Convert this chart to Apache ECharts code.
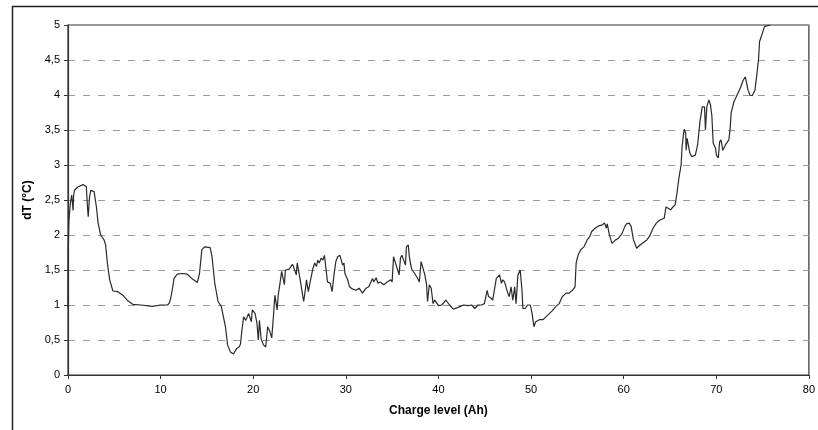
<!DOCTYPE html>
<html><head><meta charset="utf-8">
<script src="https://cdn.jsdelivr.net/npm/echarts@6/dist/echarts.min.js"></script>
<style>html,body{margin:0;padding:0;background:#fff}#c{width:818px;height:430px}</style>
</head><body><div id="c"></div>
<script>
const xTitle = 'Charge level (Ah)';
const yTitle = 'dT (°C)';
const xTicks = [0,10,20,30,40,50,60,70,80];
const yTicks = [0,0.5,1,1.5,2,2.5,3,3.5,4,4.5,5];
const chargeAh = [0,0.03,0.1,0.25,0.4,0.5,0.55,0.6,0.7,1.1,1.63,1.98,2.08,2.18,2.33,2.47,2.82,3.07,3.25,3.53,3.89,4.06,4.25,4.5,4.85,5.39,5.92,6.46,6.99,7.88,9.1,10.0,10.75,10.95,11.1,11.3,11.45,11.8,12.35,12.87,13.37,13.96,14.2,14.45,14.75,15.35,15.55,15.85,16.2,16.55,16.75,17.0,17.23,17.53,17.87,18.22,18.47,18.62,18.78,18.96,19.2,19.5,19.8,19.9,20.2,20.4,20.55,20.67,20.85,21.1,21.35,21.56,21.8,22.0,22.18,22.34,22.48,22.58,22.7,22.87,23.07,23.27,23.37,23.47,23.86,24.06,24.26,24.46,24.65,24.75,24.95,25.05,25.3,25.45,25.65,25.75,25.95,26.15,26.34,26.44,26.64,26.83,26.97,27.13,27.33,27.53,27.69,27.83,28.02,28.32,28.52,28.72,28.92,29.12,29.36,29.51,29.66,29.8,29.9,30.2,30.4,30.7,31.1,31.44,31.79,32.18,32.48,32.88,33.02,33.27,33.47,33.72,33.87,34.12,34.46,34.86,35.0,35.15,35.35,35.55,35.75,35.9,36.05,36.25,36.44,36.54,36.74,36.84,36.97,37.14,37.44,37.63,37.83,37.93,38.13,38.33,38.53,38.72,38.82,39.02,39.22,39.42,39.6,40.0,40.36,40.8,41.2,41.6,42.2,42.7,43.23,43.58,43.92,44.27,44.67,44.96,45.26,45.41,45.66,45.86,46.05,46.25,46.4,46.6,46.8,46.95,47.14,47.34,47.44,47.64,47.84,48.03,48.23,48.38,48.58,48.83,49.02,49.12,49.37,49.62,49.92,50.11,50.31,50.5,50.9,51.3,51.6,52.0,52.3,52.69,53.04,53.38,53.78,54.12,54.47,54.75,54.87,55.07,55.36,55.71,56.06,56.35,56.55,56.95,57.29,57.64,57.94,58.13,58.23,58.43,58.73,59.13,59.42,59.82,60.12,60.31,60.61,60.81,61.06,61.4,61.8,62.1,62.5,62.79,63.19,63.53,63.88,64.38,64.57,64.77,65.07,65.32,65.56,65.76,65.96,66.2,66.31,66.45,66.55,66.7,66.75,66.85,67.15,67.34,67.54,67.74,67.99,68.24,68.48,68.73,68.83,68.98,69.2,69.37,69.52,69.67,69.92,70.02,70.22,70.36,70.51,70.71,71.0,71.36,71.5,71.6,71.9,72.25,72.6,72.9,73.14,73.34,73.43,73.63,73.88,74.18,74.38,74.57,74.67,74.97,75.22,75.27,75.86];
const dT = [0.95,1.8,2.2,2.45,2.57,2.55,2.35,2.55,2.64,2.69,2.72,2.69,2.45,2.26,2.55,2.64,2.62,2.4,2.17,2.0,1.93,1.86,1.6,1.36,1.2,1.19,1.14,1.06,1.01,1.0,0.98,1.0,1.0,1.03,1.1,1.25,1.38,1.44,1.45,1.44,1.38,1.32,1.45,1.79,1.83,1.82,1.69,1.31,1.05,0.98,0.96,0.69,0.43,0.33,0.30,0.38,0.40,0.44,0.64,0.83,0.78,0.88,0.76,0.93,0.88,0.74,0.5,0.78,0.52,0.43,0.40,0.69,0.62,0.53,0.83,1.14,1.12,0.93,1.14,1.29,1.48,1.5,1.29,1.5,1.51,1.55,1.58,1.6,1.43,1.6,1.61,1.38,1.17,1.05,1.24,1.36,1.19,1.33,1.31,1.52,1.6,1.55,1.64,1.6,1.67,1.64,1.71,1.55,1.33,1.31,1.19,1.43,1.62,1.69,1.71,1.69,1.57,1.6,1.45,1.36,1.26,1.23,1.21,1.24,1.17,1.24,1.26,1.38,1.33,1.39,1.31,1.33,1.31,1.29,1.33,1.36,1.33,1.69,1.71,1.52,1.43,1.67,1.71,1.69,1.57,1.83,1.86,1.71,1.6,1.5,1.45,1.43,1.36,1.33,1.62,1.6,1.43,1.29,1.05,1.29,1.24,1.02,1.07,0.99,1.0,1.07,1.0,0.94,0.97,1.0,0.99,1.0,0.95,1.0,1.0,1.02,1.21,1.12,1.1,1.07,1.05,1.38,1.36,1.43,1.31,1.36,1.33,1.31,1.19,1.12,1.26,1.07,1.26,1.02,1.43,1.5,1.21,0.95,0.95,1.0,1.0,0.88,0.69,0.76,0.79,0.79,0.83,0.88,0.92,0.98,1.02,1.12,1.17,1.17,1.21,1.26,1.6,1.71,1.79,1.83,1.93,1.98,2.05,2.1,2.13,2.14,2.17,2.1,2.16,2.02,1.88,1.93,1.95,2.02,2.12,2.16,2.17,2.12,1.93,1.81,1.86,1.89,1.93,1.98,2.1,2.17,2.21,2.24,2.4,2.38,2.36,2.4,2.43,2.6,2.81,3.0,3.26,3.43,3.51,3.45,3.21,3.38,3.17,3.12,3.1,3.14,3.29,3.62,3.83,3.83,3.5,3.83,3.93,3.86,3.71,3.31,3.24,3.14,3.1,3.33,3.36,3.21,3.29,3.36,3.52,3.74,3.9,4.0,4.1,4.21,4.26,4.24,4.07,4.0,3.99,4.07,4.29,4.52,4.76,4.88,4.98,5.0,5.0];

const pts = chargeAh.map((x, i) => [x, dT[i]]);
const chart = echarts.init(document.getElementById('c'), null, {renderer: 'canvas'});
const font = 'Arial, "Liberation Sans", sans-serif';
chart.setOption({
  animation: false,
  backgroundColor: '#fff',
  textStyle: {fontFamily: font},
  graphic: [{
    type: 'rect', silent: true, z: -1,
    shape: {x: 12.5, y: 6.5, width: 820, height: 440},
    style: {fill: 'none', stroke: '#222', lineWidth: 1.5}
  }],
  grid: {left: 68, top: 25, right: 3, bottom: 55, show: true, borderColor: '#333', borderWidth: 1.2, backgroundColor: 'transparent'},
  xAxis: {
    type: 'value', min: xTicks[0], max: xTicks[xTicks.length - 1], interval: 10,
    name: xTitle, nameLocation: 'middle', nameGap: 30,
    nameTextStyle: {fontWeight: 'bold', fontSize: 12, color: '#000', fontFamily: font},
    axisLine: {lineStyle: {color: '#333', width: 1.2}},
    axisTick: {show: true, length: 4, lineStyle: {color: '#333'}},
    axisLabel: {color: '#000', fontSize: 11, margin: 9, fontFamily: font},
    splitLine: {show: false}
  },
  yAxis: {
    type: 'value', min: yTicks[0], max: yTicks[yTicks.length - 1], interval: 0.5,
    name: yTitle, nameLocation: 'middle', nameGap: 31, nameRotate: 90,
    nameTextStyle: {fontWeight: 'bold', fontSize: 12, color: '#000', fontFamily: font},
    axisLine: {show: true, lineStyle: {color: '#333', width: 1.2}},
    axisTick: {show: true, length: 4, lineStyle: {color: '#333'}},
    axisLabel: {color: '#000', fontSize: 11, margin: 8, fontFamily: font,
      formatter: v => String(v).replace('.', ',')},
    splitLine: {show: true, lineStyle: {color: '#9a9a9a', type: [7, 8], width: 1}}
  },
  series: [{
    type: 'line', data: pts, showSymbol: false, symbol: 'none', clip: true,
    lineStyle: {color: '#2a2a2a', width: 1.2}
  }]
});
</script></body></html>
